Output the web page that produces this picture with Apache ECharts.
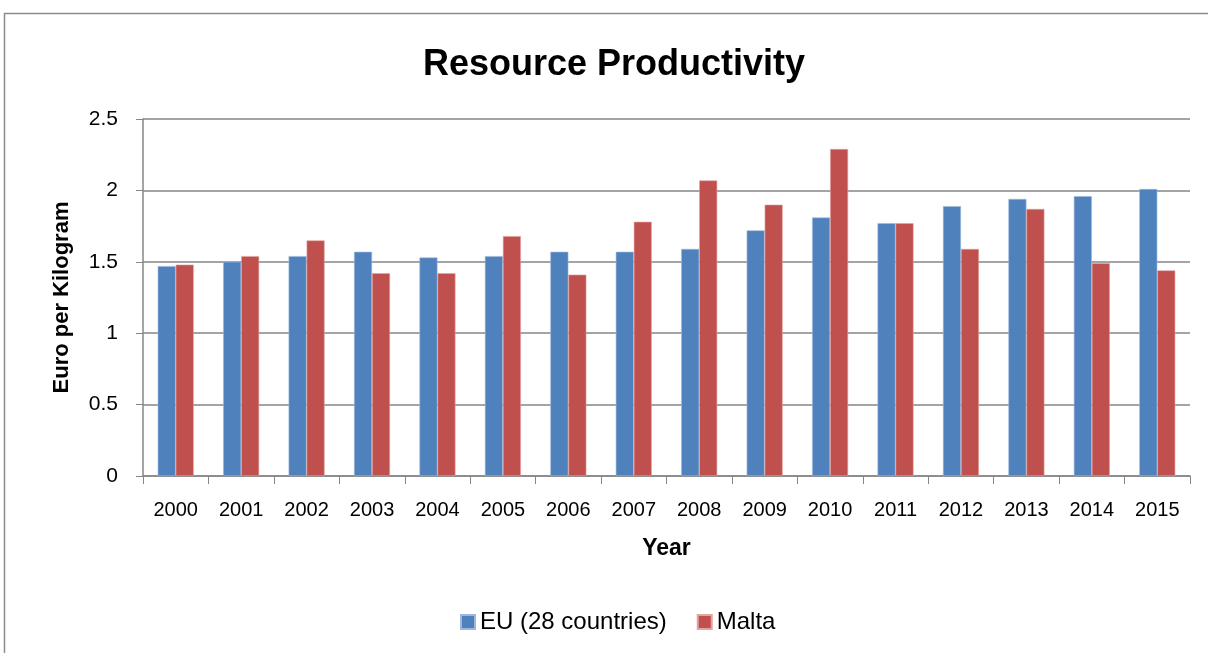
<!DOCTYPE html>
<html>
<head>
<meta charset="utf-8">
<script src="https://cdn.jsdelivr.net/npm/echarts@6/dist/echarts.min.js"></script>
<style>
  html, body { margin: 0; padding: 0; background: #fff; }
  #chart { width: 1208px; height: 653px; }
</style>
</head>
<body>
<div id="chart"></div>
<script>
// Resource productivity, euro per kilogram of domestic material consumption
const years = ['2000', '2001', '2002', '2003', '2004', '2005', '2006', '2007',
               '2008', '2009', '2010', '2011', '2012', '2013', '2014', '2015'];
const euValues = [1.47, 1.50, 1.54, 1.57, 1.53, 1.54, 1.57, 1.57,
                  1.59, 1.72, 1.81, 1.77, 1.89, 1.94, 1.96, 2.01];
const maltaValues = [1.48, 1.54, 1.65, 1.42, 1.42, 1.68, 1.41, 1.78,
                     2.07, 1.90, 2.29, 1.77, 1.59, 1.87, 1.49, 1.44];
const seriesNames = ['EU (28 countries)', 'Malta'];

const font = 'Liberation Sans, Arial, sans-serif';
const grey = '#868686';

const chart = echarts.init(document.getElementById('chart'));
chart.setOption({
  animation: false,
  backgroundColor: '#fff',
  textStyle: { fontFamily: font, color: '#000' },
  graphic: [{
    type: 'polyline',
    shape: { points: [[4.5, 660], [4.5, 13.5], [1215, 13.5]] },
    style: { stroke: '#8c8c8c', lineWidth: 1.5, fill: null },
    silent: true
  }],
  title: {
    text: 'Resource Productivity',
    left: 418,
    top: 42,
    textStyle: { fontFamily: font, fontSize: 36, fontWeight: 'bold', color: '#000' }
  },
  grid: { left: 143, right: 18, top: 119, bottom: 177 },
  legend: {
    data: seriesNames,
    bottom: 14,
    left: 455,
    icon: 'rect',
    itemWidth: 14,
    itemHeight: 14,
    itemGap: 30,
    textStyle: { fontFamily: font, fontSize: 24, color: '#000' }
  },
  xAxis: {
    type: 'category',
    data: years,
    name: 'Year',
    nameLocation: 'middle',
    nameGap: 61,
    nameTextStyle: { fontFamily: font, fontSize: 23, fontWeight: 'bold', color: '#000' },
    axisLine: { lineStyle: { color: grey, width: 1.5 } },
    axisTick: { show: true, length: 8, lineStyle: { color: grey, width: 1 } },
    axisLabel: { fontFamily: font, fontSize: 20, color: '#000', margin: 24 }
  },
  yAxis: {
    type: 'value',
    min: 0,
    max: 2.5,
    interval: 0.5,
    name: 'Euro per Kilogram',
    nameLocation: 'middle',
    nameGap: 70,
    nameRotate: 90,
    nameTextStyle: { fontFamily: font, fontSize: 22, fontWeight: 'bold', color: '#000' },
    axisLine: { show: true, lineStyle: { color: grey, width: 1.5 } },
    axisTick: { show: true, length: 7, lineStyle: { color: grey, width: 1 } },
    axisLabel: { fontFamily: font, fontSize: 21, color: '#000', margin: 25 },
    splitLine: { lineStyle: { color: grey, width: 1.5 } }
  },
  series: [
    {
      name: seriesNames[0],
      type: 'bar',
      data: euValues,
      barWidth: 18,
      barGap: '0%',
      itemStyle: { color: '#4F81BD', borderColor: '#9db8dc', borderWidth: 0.6 }
    },
    {
      name: seriesNames[1],
      type: 'bar',
      data: maltaValues,
      barWidth: 18,
      barGap: '0%',
      itemStyle: { color: '#C0504D', borderColor: '#e3a3a1', borderWidth: 0.6 }
    }
  ]
});
</script>
</body>
</html>
